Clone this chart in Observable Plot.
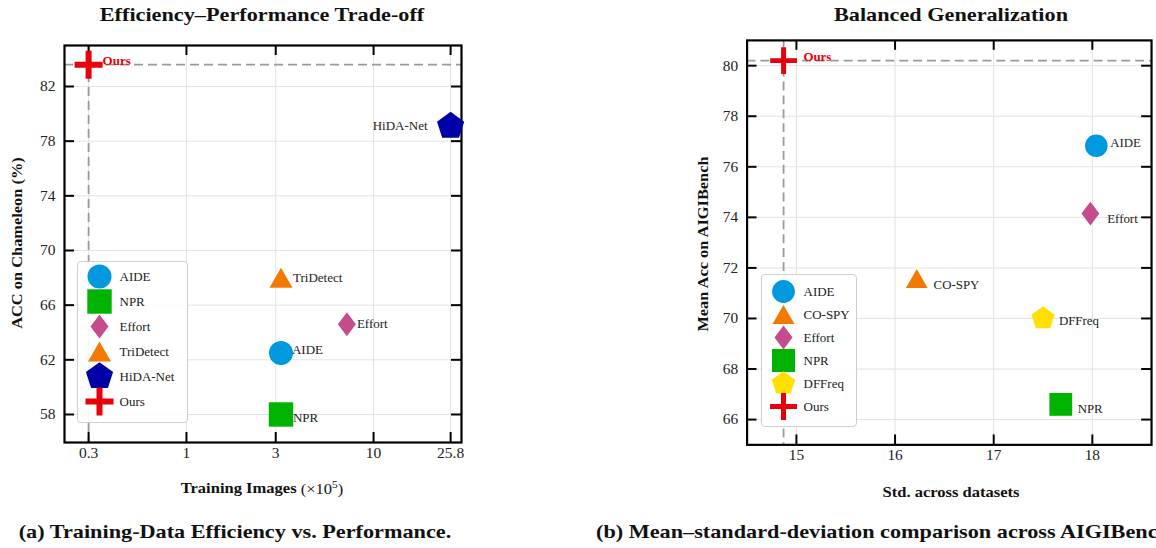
<!DOCTYPE html>
<html>
<head>
<meta charset="utf-8">
<script src="https://cdn.jsdelivr.net/npm/d3@7"></script>
<script src="https://cdn.jsdelivr.net/npm/@observablehq/plot@0.6"></script>
<style>
  html, body { margin: 0; padding: 0; background: #fff; }
  body { width: 1156px; height: 548px; overflow: hidden; position: relative; font-family: "Liberation Serif", serif; color: #111; }
  .abs { position: absolute; white-space: nowrap; }
  .center { transform: translate(-50%, -50%) scaleX(1.14); }
  .rot { transform: translate(-50%, -50%) rotate(-90deg) scaleX(1.13); }
  .leftcap { transform: translate(0, -50%) scaleX(1.14); transform-origin: 0 50%; }
  .title { font-weight: bold; font-size: 19.5px; }
  .axlabel { font-weight: bold; font-size: 14.5px; }
  .caption { font-weight: bold; font-size: 19.5px; }
  .legend { position: absolute; box-sizing: border-box; border: 1px solid #cfcfcf; border-radius: 4px; background: rgba(255,255,255,0.9); }
  .legend svg, .plot svg { display: block; }
  .plot { position: absolute; }
</style>
</head>
<body>
<script>
// ---------------- data ----------------
// (a) Training-data efficiency vs performance
const leftMethods = ["AIDE", "NPR", "Effort", "TriDetect", "HiDA-Net", "Ours"];
const leftTrainImages = [3.2, 3.2, 7.2, 3.2, 25.8, 0.3];          // x10^5
const leftAcc = [62.5, 58.0, 64.6, 68.0, 79.1, 83.6];               // ACC on Chameleon (%)
const leftXTicks = [0.3, 1, 3, 10, 25.8];
const leftXTickLabels = ["0.3", "1", "3", "10", "25.8"];
const leftYTicks = [58, 62, 66, 70, 74, 78, 82];

// (b) Mean-std comparison across AIGIBench
const rightMethods = ["AIDE", "CO-SPY", "Effort", "NPR", "DFFreq", "Ours"];
const rightStd = [18.04, 16.22, 17.98, 17.68, 17.5, 14.87];
const rightMean = [76.83, 71.58, 74.15, 66.6, 70.0, 80.2];
const rightXTicks = [15, 16, 17, 18];
const rightYTicks = [66, 68, 70, 72, 74, 76, 78, 80];

// ---------------- styles ----------------
const COLORS = {
  "AIDE": "#0099dd", "NPR": "#00b300", "Effort": "#c64b8c", "TriDetect": "#f27a00",
  "CO-SPY": "#f27a00", "HiDA-Net": "#0000a8", "DFFreq": "#ffe000", "Ours": "#e8000b"
};
const SHAPE = {
  "AIDE": "circle", "NPR": "square", "Effort": "diamond", "TriDetect": "triangle",
  "CO-SPY": "triangle", "HiDA-Net": "pentagon", "DFFreq": "pentagon", "Ours": "plus"
};
// label offsets [dx, dy, anchor]
const leftLabelPos = {
  "AIDE": [11, -3, "start"], "NPR": [12, 3, "start"], "Effort": [10, 0, "start"],
  "TriDetect": [12, 0, "start"], "HiDA-Net": [-23, 0, "end"], "Ours": [14, -4, "start"]
};
const rightLabelPos = {
  "AIDE": [14, -3, "start"], "CO-SPY": [17, 6, "start"], "Effort": [17, 5, "start"],
  "NPR": [17, 5, "start"], "DFFreq": [16, 2, "start"], "Ours": [20, -4, "start"]
};

// symbol factories (pixel dimensions)
function makeSymbols(d) {
  const poly = pts => ({draw(c) { c.moveTo(pts[0][0], pts[0][1]); for (let i = 1; i < pts.length; i++) c.lineTo(pts[i][0], pts[i][1]); c.closePath(); }});
  const L = d.plusL, t = d.plusT;
  const pent = [];
  for (let k = 0; k < 5; k++) { const a = (-90 + 72 * k) * Math.PI / 180; pent.push([d.pentR * Math.cos(a), d.pentR * Math.sin(a)]); }
  return {
    circle: {draw(c) { c.moveTo(d.circleR, 0); c.arc(0, 0, d.circleR, 0, 2 * Math.PI); c.closePath(); }},
    square: poly([[-d.sq, -d.sq], [d.sq, -d.sq], [d.sq, d.sq], [-d.sq, d.sq]]),
    diamond: poly([[0, -d.diaH], [d.diaW, 0], [0, d.diaH], [-d.diaW, 0]]),
    triangle: poly([[0, -d.triH], [d.triW, d.triH], [-d.triW, d.triH]]),
    pentagon: poly(pent),
    plus: poly([[-t, -L], [t, -L], [t, -t], [L, -t], [L, t], [t, t], [t, L], [-t, L], [-t, t], [-L, t], [-L, -t], [-t, -t]])
  };
}
const leftSym = makeSymbols({circleR: 12, sq: 12.2, diaW: 9, diaH: 12, triW: 11.5, triH: 10, pentR: 14.3, plusL: 14, plusT: 3});
const rightSym = makeSymbols({circleR: 11.4, sq: 11.5, diaW: 9, diaH: 12, triW: 11, triH: 9.5, pentR: 12.3, plusL: 13.5, plusT: 2.5});

const FONT = "Liberation Serif, serif";

function el(tag, cls, html, css) {
  const e = document.createElement(tag);
  e.className = cls; e.innerHTML = html;
  Object.assign(e.style, css);
  document.body.appendChild(e);
  return e;
}

function scatter(cfg) {
  const {methods, xs, ys, xTicks, xTickLabels, yTicks, xType, xDomain, yDomain,
         width, height, mt, mb, ml, mr, sym, labelPos} = cfg;
  const data = methods.map((m, i) => ({method: m, x: xs[i], y: ys[i]}));
  const innerW = width - ml - mr, innerH = height - mt - mb;
  const stub = 10;
  const ours = data.find(d => d.method === "Ours");
  const marks = [
    Plot.ruleX(xTicks, {x: d => d, stroke: "#e2e2e2", strokeWidth: 1}),
    Plot.ruleY(yTicks, {y: d => d, stroke: "#e2e2e2", strokeWidth: 1}),
    Plot.ruleX([ours], {x: "x", stroke: "#9a9a9a", strokeWidth: 1.8, strokeDasharray: "9,5"}),
    Plot.ruleY([ours], {y: "y", stroke: "#9a9a9a", strokeWidth: 1.8, strokeDasharray: "9,5"}),
    Plot.frame({stroke: "#000", strokeWidth: 2.2}),
    Plot.ruleX(xTicks, {x: d => d, stroke: "#000", strokeWidth: 2, insetTop: innerH - stub}),
    Plot.ruleX(xTicks, {x: d => d, stroke: "#000", strokeWidth: 2, insetBottom: innerH - stub}),
    Plot.ruleY(yTicks, {y: d => d, stroke: "#000", strokeWidth: 2, insetRight: innerW - stub}),
    Plot.ruleY(yTicks, {y: d => d, stroke: "#000", strokeWidth: 2, insetLeft: innerW - stub}),
    Plot.text(xTicks, {x: d => d, text: (d, i) => xTickLabels[i], frameAnchor: "bottom", dy: 15, fontSize: 15.5, fill: "#222", textAnchor: "middle"}),
    Plot.text(yTicks, {y: d => d, text: d => String(d), frameAnchor: "left", dx: -9, fontSize: 15.5, fill: "#222", textAnchor: "end"})
  ];
  for (const d of data) {
    marks.push(Plot.dot([d], {x: "x", y: "y", r: 10, symbol: sym[SHAPE[d.method]], fill: COLORS[d.method], stroke: "none", clip: false}));
  }
  for (const d of data) {
    const [dx, dy, anchor] = labelPos[d.method];
    const isOurs = d.method === "Ours";
    marks.push(Plot.text([d], {x: "x", y: "y", text: "method", dx, dy, textAnchor: anchor,
      fontSize: 13, fill: isOurs ? COLORS.Ours : "#222", fontWeight: isOurs ? "bold" : "normal"}));
  }
  return Plot.plot({
    width, height, marginTop: mt, marginBottom: mb, marginLeft: ml, marginRight: mr,
    x: {type: xType, domain: xDomain, axis: null},
    y: {type: "linear", domain: yDomain, axis: null},
    style: {fontFamily: FONT, background: "transparent", overflow: "visible"},
    marks
  });
}

function legend(methods, sym, w, h, yRange) {
  return Plot.plot({
    width: w, height: h, margin: 0,
    y: {type: "point", domain: methods, range: yRange, padding: 0, axis: null},
    style: {fontFamily: FONT, background: "transparent", overflow: "visible"},
    marks: [
      ...methods.map(m => Plot.dot([m], {y: d => d, frameAnchor: "left", dx: 21, r: 10, symbol: sym[SHAPE[m]], fill: COLORS[m], stroke: "none"})),
      Plot.text(methods, {y: d => d, text: d => d, frameAnchor: "left", dx: 41, textAnchor: "start", fontSize: 13, fill: "#222"})
    ]
  });
}

// ---------------- left panel ----------------
el("div", "abs center title", "Efficiency–Performance Trade-off", {left: "262px", top: "15px"});
const lp = el("div", "plot", "", {left: "0px", top: "30px"});
lp.appendChild(scatter({
  methods: leftMethods, xs: leftTrainImages, ys: leftAcc,
  xTicks: leftXTicks, xTickLabels: leftXTickLabels, yTicks: leftYTicks,
  xType: "log", xDomain: [0.223, 29.5], yDomain: [55.95, 85.0],
  width: 470, height: 445, mt: 15, mb: 33, ml: 64, mr: 9, sym: leftSym, labelPos: leftLabelPos
}));
el("div", "abs rot axlabel", "ACC on Chameleon (%)", {left: "17px", top: "243px"});
el("div", "abs center axlabel", 'Training Images <span style="font-weight:normal">(×10<sup style="font-size:10px">5</sup>)</span>', {left: "262px", top: "488px"});
el("div", "abs center caption", "(a) Training-Data Efficiency vs. Performance.", {left: "235px", top: "532px"});
const ll = el("div", "legend", "", {left: "77px", top: "261px", width: "111px", height: "162px"});
ll.appendChild(legend(leftMethods, leftSym, 109, 160, [14, 139]));

// ---------------- right panel ----------------
el("div", "abs center title", "Balanced Generalization", {left: "951px", top: "15px"});
const rp = el("div", "plot", "", {left: "700px", top: "30px"});
rp.appendChild(scatter({
  methods: rightMethods, xs: rightStd, ys: rightMean,
  xTicks: rightXTicks, xTickLabels: rightXTicks.map(String), yTicks: rightYTicks,
  xType: "linear", xDomain: [14.5, 18.6], yDomain: [65, 81],
  width: 460, height: 450, mt: 10, mb: 32, ml: 47, mr: 5, sym: rightSym, labelPos: rightLabelPos
}));
el("div", "abs rot axlabel", "Mean Acc on AIGIBench", {left: "703px", top: "244px"});
el("div", "abs center axlabel", "Std. across datasets", {left: "951px", top: "492px"});
el("div", "abs leftcap caption", "(b) Mean–standard-deviation comparison across AIGIBench.", {left: "596px", top: "532px"});
const rl = el("div", "legend", "", {left: "761px", top: "274px", width: "96px", height: "153px"});
rl.appendChild(legend(rightMethods, rightSym, 94, 151, [15, 132]));
</script>
</body>
</html>
